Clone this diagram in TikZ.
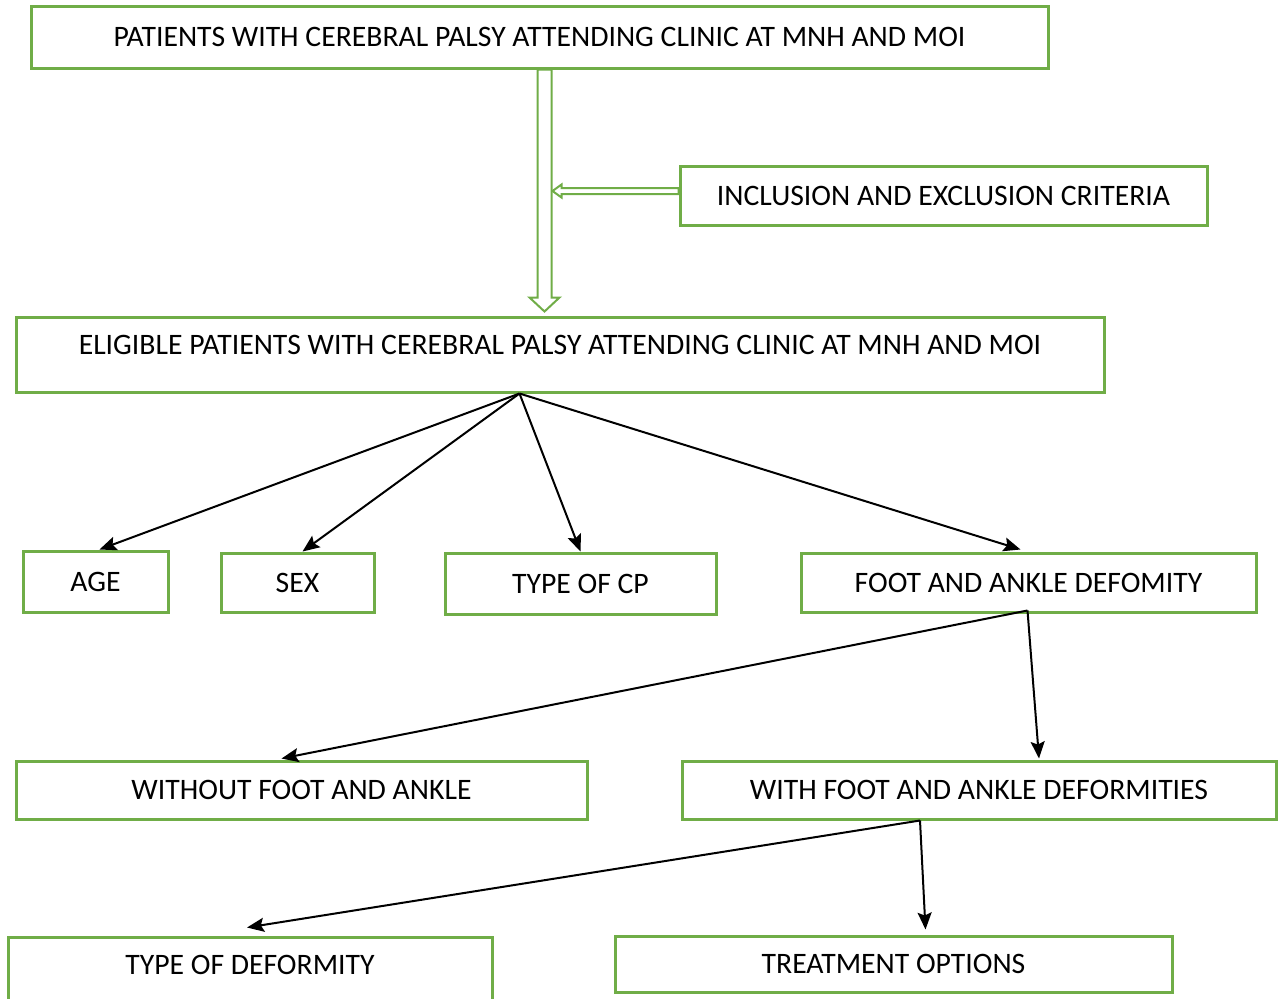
\documentclass[tikz,border=0pt]{standalone}
\usepackage{fontspec}
\setmainfont{Carlito}
\usetikzlibrary{arrows.meta,calc}
\definecolor{boxgreen}{RGB}{112,173,71}
\tikzset{
  flowbox/.style={draw=boxgreen, line width=1.5pt, inner sep=0pt, font=\fontsize{14.85}{17}\selectfont},
  toptext/.style={text height=7pt, text depth=7pt},
  link/.style={line width=1pt, -{Stealth[length=8.5pt,width=7pt,inset=1.5pt]}},
  hollow/.style={draw=boxgreen, line width=1pt, fill=white}
}
\begin{document}
\begin{tikzpicture}[x=0.5pt,y=-0.5pt]
    \useasboundingbox (0,0) rectangle (1279,998);

    % Boxes
    \node[flowbox, minimum width=508.5pt, minimum height=31pt] (patients) at (539.5,37) {PATIENTS WITH CEREBRAL PALSY ATTENDING CLINIC AT MNH AND MOI};
    \node[flowbox, minimum width=263.5pt, minimum height=29.5pt] (criteria) at (943.5,195.5) {INCLUSION AND EXCLUSION CRITERIA};
    \node[flowbox, toptext, minimum width=544pt, minimum height=37.5pt] (eligible) at (560,354.5) {ELIGIBLE PATIENTS WITH CEREBRAL PALSY ATTENDING CLINIC AT MNH AND MOI};

    \node[flowbox, minimum width=72.5pt, minimum height=30.5pt] (age) at (95.5,581.5) {AGE};
    \node[flowbox, minimum width=76.5pt, minimum height=29.5pt] (sex) at (297.5,582.5) {SEX};
    \node[flowbox, minimum width=135.5pt, minimum height=30.5pt] (cptype) at (580.5,583.5) {TYPE OF CP};
    \node[flowbox, minimum width=227.5pt, minimum height=29.5pt] (foot) at (1028.5,582.5) {FOOT AND ANKLE DEFOMITY};

    \node[flowbox, minimum width=285.5pt, minimum height=29pt] (without) at (301.5,790) {WITHOUT FOOT AND ANKLE};
    \node[flowbox, minimum width=297pt, minimum height=29pt] (with) at (979,790) {WITH FOOT AND ANKLE DEFORMITIES};

    \node[flowbox, toptext, minimum width=242pt, minimum height=37.5pt] (deftype) at (250,974.5) {TYPE OF DEFORMITY};
    \node[flowbox, minimum width=278.5pt, minimum height=28pt] (treatment) at (893.5,964) {TREATMENT OPTIONS};

    % Hollow arrows
    \coordinate (down) at ($(patients.south west)+(515,0)$);
    \filldraw[hollow] ($(down)+(-7,0)$) -- ($(down)+(-7,228)$) -- ($(down)+(-15,228)$)
        -- ($(down)+(0,242)$) -- ($(down)+(15,228)$) -- ($(down)+(7,228)$) -- ($(down)+(7,0)$) -- cycle;
    \filldraw[hollow] ($(criteria.west)+(0,-7.5)$) -- ($(criteria.west)+(-117,-7.5)$) -- ($(criteria.west)+(-117,-11)$)
        -- ($(criteria.west)+(-126,-4.5)$) -- ($(criteria.west)+(-117,2)$) -- ($(criteria.west)+(-117,-1.5)$)
        -- ($(criteria.west)+(0,-1.5)$) -- cycle;

    % Connectors
    \coordinate (eligout) at ($(eligible.south west)+(505,0)$);
    \draw[link] (eligout) -- ($(age.north)+(4,0)$);
    \draw[link] (eligout) -- ($(sex.north)+(5,0)$);
    \draw[link] (eligout) -- (cptype.north);
    \draw[link] (eligout) -- ($(foot.north)+(-8,-2)$);

    \coordinate (footout) at ($(foot.south)+(-1,-3)$);
    \draw[link] (footout) -- ($(without.north)+(-20,-1)$);
    \draw[link] (footout) -- ($(with.north)+(60,-1)$);

    \coordinate (without) at ($(with.south)+(-59,0)$);
    \draw[link] (without) -- ($(deftype.north)+(-3,-8)$);
    \draw[link] (without) -- ($(treatment.north)+(32,-5)$);

\end{tikzpicture}
\end{document}
